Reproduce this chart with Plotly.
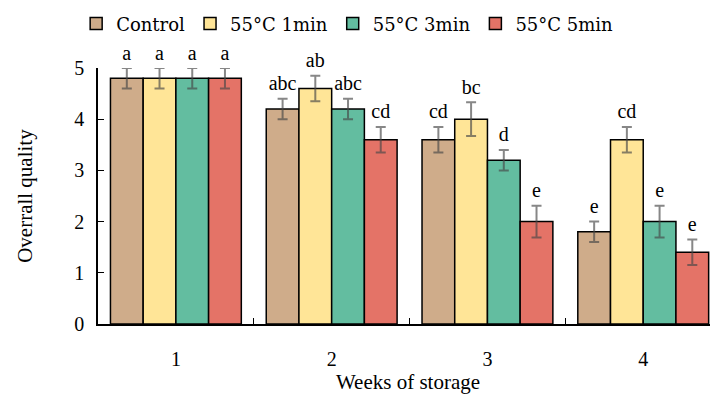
import plotly.graph_objects as go

weeks = ["1", "2", "3", "4"]
series_names = ["Control", "55°C 1min", "55°C 3min", "55°C 5min"]
values = [
    [4.8, 4.2, 3.6, 1.8],
    [4.8, 4.6, 4.0, 3.6],
    [4.8, 4.2, 3.2, 2.0],
    [4.8, 3.6, 2.0, 1.4],
]
errors = [
    [0.2, 0.2, 0.25, 0.2],
    [0.2, 0.25, 0.33, 0.25],
    [0.2, 0.2, 0.2, 0.31],
    [0.2, 0.25, 0.31, 0.25],
]
letters = [
    ["a", "abc", "cd", "e"],
    ["a", "ab", "bc", "cd"],
    ["a", "abc", "d", "e"],
    ["a", "cd", "e", "e"],
]
colors = ["#CFAC8A", "#FFE597", "#63BDA0", "#E47367"]
x_title = "Weeks of storage"
y_title = "Overrall quality"

FONT = "Liberation Serif, Times New Roman, serif"
LEGEND_FONT = "DejaVu Serif, Liberation Serif, serif"

fig = go.Figure()
for i, name in enumerate(series_names):
    fig.add_trace(go.Bar(
        x=weeks, y=values[i], name=name,
        marker=dict(color=colors[i], line=dict(color="black", width=1.5)),
        error_y=dict(type="data", array=errors[i], color="rgba(70,70,70,0.65)",
                     thickness=2, width=5),
        offsetgroup=str(i), alignmentgroup="g",
    ))
for i, name in enumerate(series_names):
    fig.add_trace(go.Scatter(
        x=weeks, y=[v + e for v, e in zip(values[i], errors[i])],
        mode="markers+text", text=letters[i], textposition="top center",
        marker=dict(size=4, opacity=0),
        textfont=dict(family=FONT, size=20, color="black"),
        showlegend=False, cliponaxis=False, hoverinfo="skip",
        offsetgroup=str(i), alignmentgroup="g",
    ))

fig.update_layout(
    width=710, height=388,
    margin=dict(l=90, r=0, t=60, b=72, autoexpand=False),
    paper_bgcolor="white", plot_bgcolor="white",
    barmode="group", bargap=0.16, bargroupgap=0,
    scattermode="group", scattergap=0.16,
    font=dict(family=FONT, size=20, color="black"),
    legend=dict(orientation="h", x=0.096, xref="container", xanchor="left",
                y=1.245, yref="paper", yanchor="top",
                bgcolor="rgba(0,0,0,0)",
                itemwidth=30, traceorder="normal"),
    showlegend=True,
    annotations=[dict(text=y_title, textangle=-90, xref="paper", yref="paper",
                      x=-0.118, y=0.5, xanchor="center", yanchor="middle",
                      showarrow=False, font=dict(family=FONT, size=21))],
)
fig.update_layout(legend_font_family=LEGEND_FONT, legend_font_size=18,
                  legend_font_color="black")
fig.update_xaxes(
    type="category", range=[-0.5, 3.48],
    showline=True, linecolor="black", linewidth=1.5,
    ticks="inside", tickson="boundaries", ticklen=6, tickcolor="black",
    ticklabelstandoff=16,
    title=dict(text=x_title, font=dict(family=FONT, size=21), standoff=6),
    tickfont=dict(family=FONT, size=20), showgrid=False,
)
fig.update_yaxes(
    range=[0, 5], dtick=1,
    showline=True, linecolor="black", linewidth=1.5,
    ticks="inside", ticklen=6, tickcolor="black",
    ticklabelstandoff=8,
    tickfont=dict(family=FONT, size=20), showgrid=False, zeroline=False,
)

fig.write_html("out.html")
